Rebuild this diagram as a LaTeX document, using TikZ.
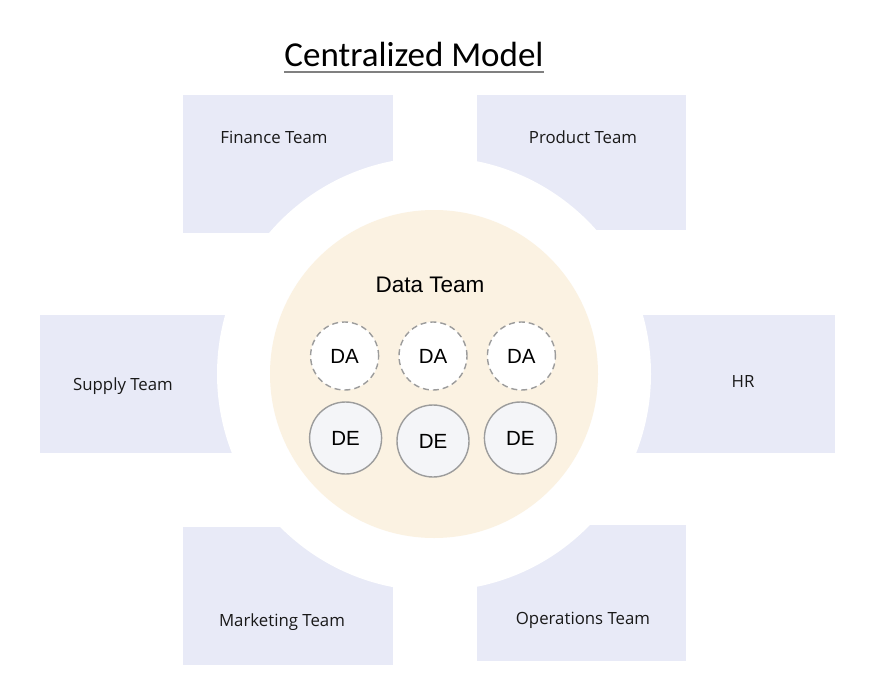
\documentclass[tikz,border=0pt]{standalone}
\usepackage{fontspec}
\setmainfont{Open Sans}
\newfontfamily\titlefont{Carlito}
\newfontfamily\arialfont{Liberation Sans}
\usetikzlibrary{positioning}
\definecolor{boxfill}{HTML}{E8EAF7}
\definecolor{datafill}{HTML}{FBF2E2}
\definecolor{ringgray}{HTML}{9C9C9C}
\definecolor{defill}{HTML}{F4F5F8}
\tikzset{
    team/.style={fill=boxfill, draw=none},
    teamlabel/.style={font=\fontsize{16.8}{20}\selectfont, text=black!90},
    da/.style={circle, minimum size=68pt, inner sep=0pt, fill=white, draw=ringgray,
        line width=1.4pt, dash pattern=on 6pt off 4pt, font=\arialfont\fontsize{20.5}{22}\selectfont},
    de/.style={circle, minimum size=72pt, inner sep=0pt, fill=defill, draw=ringgray,
        line width=1.4pt, font=\arialfont\fontsize{20.5}{22}\selectfont},
}

\begin{document}
\begin{tikzpicture}[x=1pt, y=-1pt]
    \useasboundingbox (0,0) rectangle (880,698);
    % title
    \node[anchor=base, inner sep=0pt, font=\titlefont\fontsize{35}{40}\selectfont] (title) at (414,67) {Centralized Model};
    \draw[black!50, line width=1.2pt] ([yshift=-5pt]title.base west) -- ([yshift=-5pt]title.base east);
    % team boxes
    \fill[team] (183,95) rectangle (393,233);
    \fill[team] (477,95) rectangle (686,230);
    \fill[team] (40,315) rectangle (280,453);
    \fill[team] (600,315) rectangle (835,453);
    \fill[team] (183,527) rectangle (393,665);
    \fill[team] (477,525) rectangle (686,661);
    % white ring and data team
    \fill[white] (434,374) circle [radius=217pt];
    \fill[datafill] (434,374) circle [radius=164pt];
    \node[teamlabel] (finance) at (274,137) {Finance Team};
    \node[teamlabel] (product) at (583,137) {Product Team};
    \node[teamlabel] (supply) at (123,386) {Supply Team};
    \node[teamlabel] (hr) at (743,381) {HR};
    \node[teamlabel] (marketing) at (282,622) {Marketing Team};
    \node[teamlabel] (operations) at (583,620) {Operations Team};
    \node[font=\arialfont\fontsize{22.5}{26}\selectfont] (data) at (430,285) {Data Team};
    % analysts and engineers
    \node[da] (da2) at (433,356) {DA};
    \node[da, left=19pt of da2] (da1) {DA};
    \node[da, right=19pt of da2] (da3) {DA};
    \node[de] (de2) at (433,441) {DE};
    \node[de, left=14pt of de2, yshift=3pt] (de1) {DE};
    \node[de, right=14pt of de2, yshift=3pt] (de3) {DE};
\end{tikzpicture}
\end{document}
